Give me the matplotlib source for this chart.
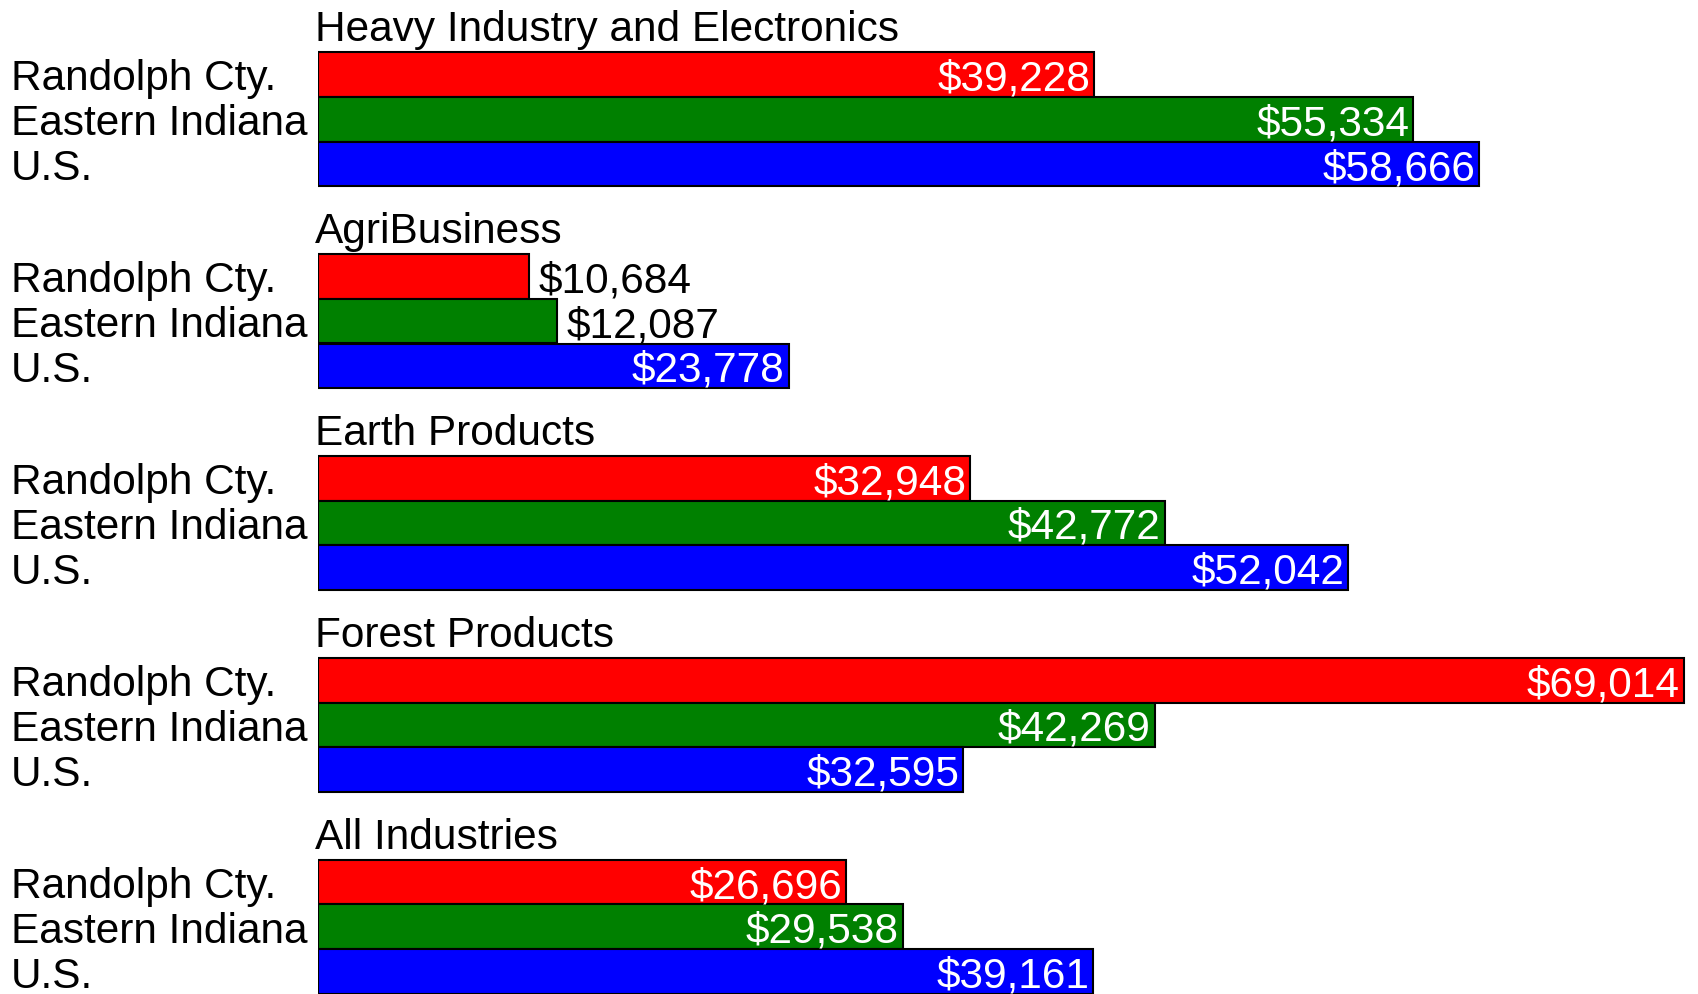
import matplotlib
matplotlib.use("Agg")
import matplotlib.pyplot as plt
import matplotlib.transforms as mtransforms

# datos del grafico
industrias = ["Heavy Industry and Electronics", "AgriBusiness", "Earth Products",
              "Forest Products", "All Industries"]
regiones = ["Randolph Cty.", "Eastern Indiana", "U.S."]
colores = ["#ff0000", "#008000", "#0000ff"]
randolph = [39228, 10684, 32948, 69014, 26696]
eastern = [55334, 12087, 42772, 42269, 29538]
us = [58666, 23778, 52042, 32595, 39161]

W, H = 1699, 994
plt.rcParams['font.family'] = ['Liberation Sans', 'DejaVu Sans']
fig = plt.figure(figsize=(W / 100, H / 100), dpi=100)
x0 = 318 / W
ax = fig.add_axes([x0, 0, 1 - x0, 1])
ax.set_xlim(0, 69014 * (W - 318) / (1684 - 318))
ax.set_ylim(H, 0)
ax.axis("off")

# escala vertical en pixeles
top0 = 52
paso = 201.9
alto = 44.8
fs = 30.5
px = 69014 / 1366  # unidades por pixel en x
trans = mtransforms.blended_transform_factory(fig.transFigure, ax.transData)

series = [randolph, eastern, us]
for g, nombre in enumerate(industrias):
    top = top0 + g * paso
    ax.text(-3 * px, top - 11, nombre, fontsize=fs, ha="left", va="baseline")
    for i, valores in enumerate(series):
        v = valores[g]
        yc = top + i * alto + alto / 2
        ax.barh(yc, v, height=alto, color=colores[i], edgecolor="black", linewidth=1.5)
        etiqueta = "${:,}".format(v)
        if v > 15000:
            ax.text(v - 4 * px, yc + 5, etiqueta, color="white", fontsize=fs,
                    ha="right", va="center")
        else:
            ax.text(v + 9 * px, yc + 5, etiqueta, color="black", fontsize=fs,
                    ha="left", va="center")
        ax.text(11 / W, yc + 5, regiones[i], transform=trans, fontsize=fs,
                ha="left", va="center")

fig.savefig("out.png", dpi=100)
